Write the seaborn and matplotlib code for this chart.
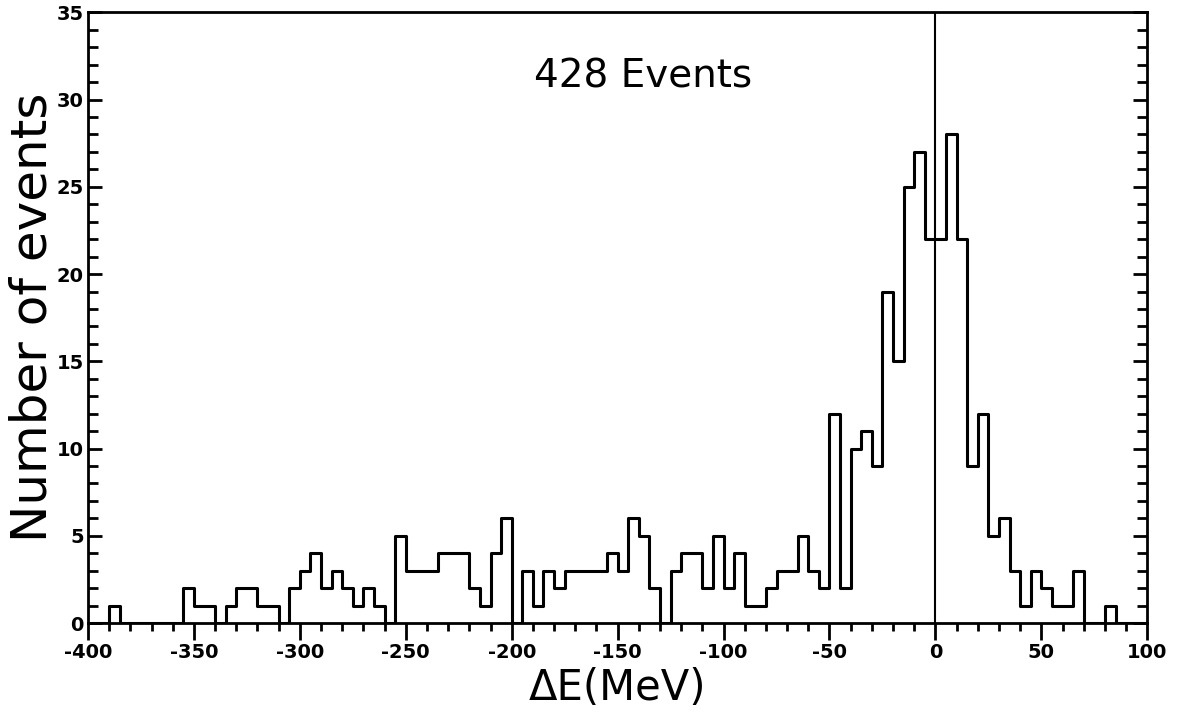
import numpy as np
import pandas as pd
import matplotlib
matplotlib.use("Agg")
import matplotlib.pyplot as plt
import matplotlib.ticker as mticker
import seaborn as sns

# ─── Data: 5 MeV bins from -400 to 100 MeV ───────────────────────────────────
bin_left = np.arange(-400, 100, 5)
counts = [
    0, 0, 1, 0, 0, 0, 0, 0, 0, 2,        # -400 .. -355
    1, 1, 0, 1, 2, 2, 1, 1, 0, 2,        # -350 .. -305
    3, 4, 2, 3, 2, 1, 2, 1, 0, 5,        # -300 .. -255
    3, 3, 3, 4, 4, 4, 2, 1, 4, 6,        # -250 .. -205
    0, 3, 1, 3, 2, 3, 3, 3, 3, 4,        # -200 .. -155
    3, 6, 5, 2, 0, 3, 4, 4, 2, 5,        # -150 .. -105
    2, 4, 1, 1, 2, 3, 3, 5, 3, 2,        # -100 .. -55
    12, 2, 10, 11, 9, 19, 15, 25, 27, 22,  # -50 .. -5
    22, 28, 22, 9, 12, 5, 6, 3, 1, 3,    # 0 .. 45
    2, 1, 1, 3, 0, 0, 1, 0, 0, 0,        # 50 .. 95
]
n_events = 428

df = pd.DataFrame({"dE": bin_left + 2.5, "n": counts})

# ─── Style ──────────────────────────────────────────────────────────────────
sns.set_theme(style="ticks")
plt.rcParams.update({
    "font.family": ["DejaVu Sans"],
    "axes.unicode_minus": False,
    "axes.linewidth": 2.0,
    "text.color": "black",
    "axes.labelcolor": "black",
    "xtick.color": "black",
    "ytick.color": "black",
})

fig = plt.figure(figsize=(11.84, 7.22), dpi=100)
ax = fig.add_axes([0.0743, 0.137, 0.8947, 0.846])

sns.histplot(data=df, x="dE", weights="n", binwidth=5, binrange=(-400, 100),
             element="step", fill=False, color="black", linewidth=2.2, ax=ax)

ax.axvline(0, color="black", linewidth=1.5)

ax.set_xlim(-400, 100)
ax.set_ylim(0, 35)
ax.xaxis.set_major_locator(mticker.MultipleLocator(50))
ax.xaxis.set_minor_locator(mticker.MultipleLocator(10))
ax.yaxis.set_major_locator(mticker.MultipleLocator(5))
ax.yaxis.set_minor_locator(mticker.MultipleLocator(1))

ax.tick_params(axis="x", which="both", direction="out", bottom=True, top=False,
               width=2, colors="black")
ax.tick_params(axis="x", which="major", length=12, labelsize=14, pad=2)
ax.tick_params(axis="x", which="minor", length=6)
ax.tick_params(axis="y", which="both", direction="in", left=True, right=True,
               width=2, colors="black")
ax.tick_params(axis="y", which="major", length=10, labelsize=14, pad=3)
ax.tick_params(axis="y", which="minor", length=7)
for lab in ax.get_xticklabels() + ax.get_yticklabels():
    lab.set_fontweight("bold")

for s in ax.spines.values():
    s.set_visible(True)
    s.set_color("black")
    s.set_linewidth(2.0)

ax.set_xlabel("ΔE(MeV)", fontsize=30, labelpad=4, color="black")
ax.set_ylabel("Number of events", fontsize=36, labelpad=0, color="black")

ax.text(-138, 31.3, f"{n_events} Events", fontsize=28, ha="center", va="center",
        color="black")

fig.savefig("out.png", dpi=100, facecolor="white")
